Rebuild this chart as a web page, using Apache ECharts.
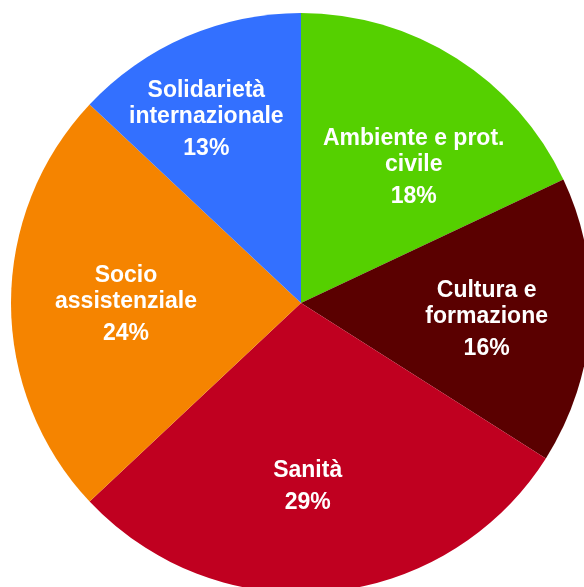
<!DOCTYPE html>
<html>
<head>
<meta charset="utf-8">
<script src="https://cdn.jsdelivr.net/npm/echarts@6/dist/echarts.min.js"></script>
<style>
  html, body { margin: 0; padding: 0; background: #fff; }
  #main { width: 584px; height: 587px; }
</style>
</head>
<body>
<div id="main"></div>
<script>
// dati del grafico
const categories = ["Ambiente e prot.\ncivile", "Cultura e\nformazione", "Sanità", "Socio\nassistenziale", "Solidarietà\ninternazionale"];
const values = [18, 16, 29, 24, 13];
const colors = ["#55D000", "#5A0000", "#C00020", "#F58400", "#3370FF"];
// piccoli spostamenti delle etichette
const labelOffsets = [[12, 26], [-2, 8], [-11, -1], [13, 5], [-20, -8]];

let chart = echarts.init(document.getElementById("main"));

const center = [301, 303];

chart.setOption({
  animation: false,
  series: [
    {
      type: "pie",
      center: center,
      radius: [0, 290],
      startAngle: 90,
      clockwise: true,
      silent: true,
      label: { show: false },
      labelLine: { show: false },
      data: values.map((v, i) => ({
        name: categories[i],
        value: v,
        itemStyle: { color: colors[i] }
      }))
    },
    {
      // serie trasparente solo per le etichette
      type: "pie",
      center: center,
      radius: [0, 370],
      startAngle: 90,
      clockwise: true,
      silent: true,
      avoidLabelOverlap: false,
      itemStyle: { color: "transparent" },
      labelLine: { show: false },
      data: values.map((v, i) => ({
        name: categories[i],
        value: v,
        label: { offset: labelOffsets[i] }
      })),
      label: {
        show: true,
        position: "inside",
        formatter: (p) => "{n|" + p.name + "}\n{p|" + p.value + "%}",
        rich: {
          n: {
            color: "#fff",
            fontFamily: "Liberation Sans",
            fontWeight: "bold",
            fontSize: 23,
            lineHeight: 26,
            align: "center"
          },
          p: {
            color: "#fff",
            fontFamily: "Liberation Sans",
            fontWeight: "bold",
            fontSize: 23,
            lineHeight: 38,
            align: "center"
          }
        }
      }
    }
  ]
});
</script>
</body>
</html>
